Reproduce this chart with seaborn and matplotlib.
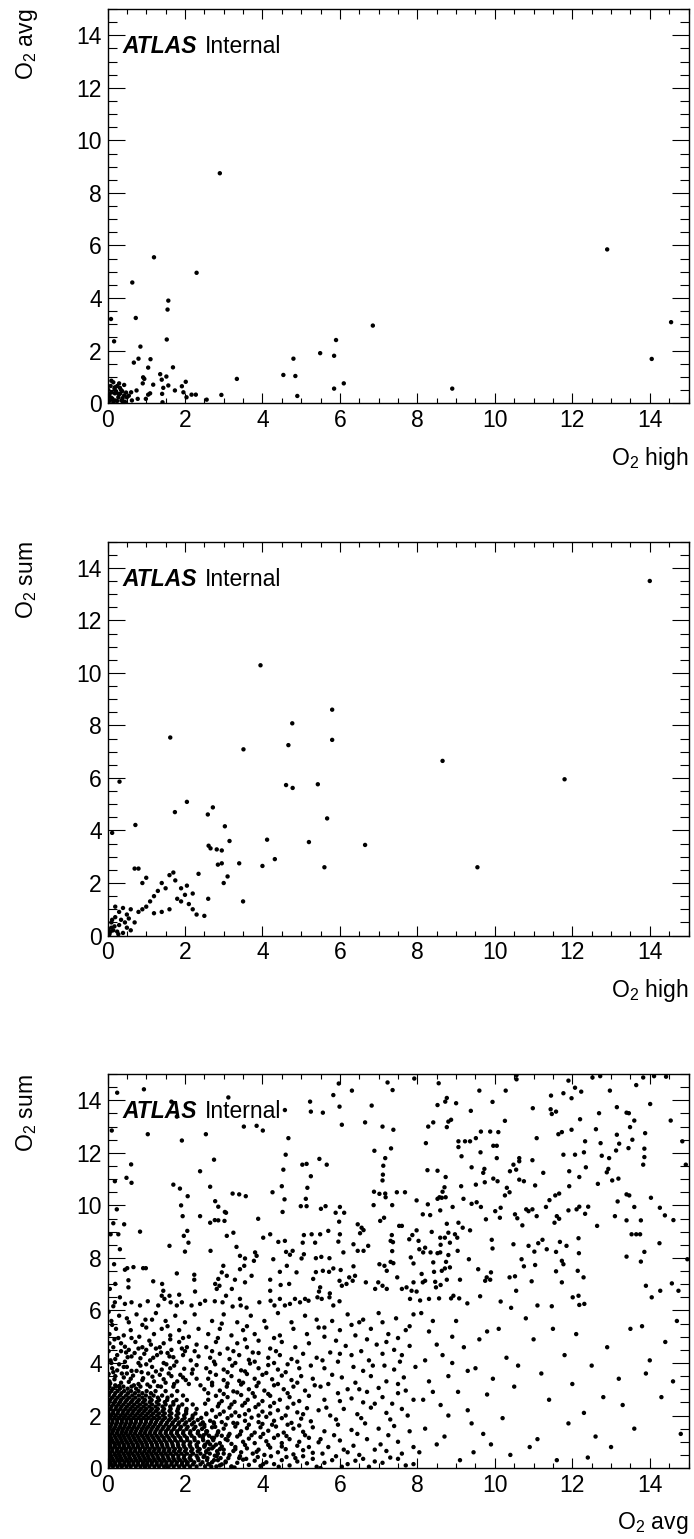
import matplotlib
matplotlib.use("Agg")
import matplotlib.pyplot as plt
import seaborn as sns
from matplotlib.ticker import MultipleLocator

# ---- panel 1: O2 high vs O2 avg ----
high1 = [2.30, 0.64, 1.57, 1.55, 0.09, 0.73, 1.53, 0.17, 0.85, 0.80, 1.11, 0.68, 1.69, 1.05, 1.36,
         0.92, 0.95, 1.52, 1.40, 0.91, 1.18, 1.57, 1.44, 1.92, 2.02, 1.74, 1.96, 1.10, 1.05, 1.41,
         0.99, 1.42, 0.75, 0.78, 0.61, 0.63, 2.04, 2.17, 2.28, 2.56, 2.94, 3.34, 4.54, 4.80, 4.85,
         4.90, 5.49, 0.15, 0.19, 0.32, 0.43, 0.11, 0.19, 0.32, 0.43, 0.13, 0.28, 0.39, 0.50, 0.06,
         0.15, 0.36, 2.90, 1.20, 5.90, 5.85, 6.85, 6.10, 5.85, 8.90, 12.90, 14.05, 14.55, 0.05, 0.22,
         0.25, 0.45, 0.02, 0.30, 0.08, 0.03, 0.10, 0.20, 0.28, 0.38, 0.05, 0.18, 0.40, 0.48, 0.25,
         0.10, 0.55, 0.35]
avg1 = [4.96, 4.59, 3.90, 3.56, 3.20, 3.24, 2.42, 2.35, 2.15, 1.69, 1.67, 1.54, 1.36, 1.35, 1.10,
        0.98, 0.92, 1.01, 0.89, 0.75, 0.70, 0.67, 0.58, 0.64, 0.81, 0.48, 0.41, 0.37, 0.32, 0.35,
        0.16, 0.03, 0.48, 0.16, 0.41, 0.10, 0.22, 0.32, 0.32, 0.13, 0.31, 0.92, 1.07, 1.69, 1.03,
        0.27, 1.90, 0.79, 0.60, 0.58, 0.69, 0.41, 0.37, 0.35, 0.29, 0.16, 0.22, 0.19, 0.22, 0.10,
        0.03, 0.10, 8.75, 5.55, 2.40, 1.80, 2.95, 0.75, 0.55, 0.55, 5.85, 1.68, 3.08, 0.25, 0.45,
        0.08, 0.05, 0.50, 0.75, 0.65, 0.05, 0.20, 0.10, 0.35, 0.45, 0.35, 0.55, 0.05, 0.40, 0.65,
        0.85, 0.28, 0.50]

# ---- panel 2: O2 high vs O2 sum ----
high2 = [3.95, 4.77, 1.62, 4.67, 3.51, 0.31, 4.61, 4.78, 5.43, 2.05, 1.74, 2.72, 2.59, 5.67, 0.72,
         3.03, 0.12, 3.15, 4.12, 5.20, 2.61, 2.66, 2.82, 2.95, 4.32, 5.80, 5.80, 14.0, 11.8, 8.65,
         6.65, 5.60, 9.55, 4.00, 3.50, 3.40, 3.00, 3.10, 2.85, 2.95,
         0.70, 0.80, 0.90, 1.00, 1.40, 1.60, 1.70, 1.75, 1.90, 2.00, 1.50, 1.30, 1.20, 1.10, 1.00,
         0.90, 0.80, 1.80, 2.10, 2.20, 2.30, 2.50, 2.35, 2.05, 1.60, 1.40, 1.20, 0.60, 0.50, 0.40,
         0.30, 0.20, 0.20, 0.10, 0.30, 0.50, 0.15, 0.25, 0.40, 0.60, 0.70, 0.05, 0.10, 0.35, 0.45,
         0.55, 1.90, 2.20, 2.60, 0.08, 0.18, 0.28, 0.02, 0.12]
sum2 = [10.29, 8.08, 7.54, 7.25, 7.09, 5.86, 5.73, 5.62, 5.76, 5.09, 4.70, 4.88, 4.61, 4.46, 4.21,
        4.16, 3.91, 3.60, 3.65, 3.56, 3.42, 3.32, 3.28, 3.24, 2.91, 8.60, 7.45, 13.5, 5.95, 6.65,
        3.45, 2.60, 2.60, 2.65, 1.30, 2.75, 2.00, 2.25, 2.70, 2.75,
        2.55, 2.55, 2.00, 2.20, 2.00, 2.30, 2.40, 2.10, 1.80, 1.55, 1.80, 1.70, 1.50, 1.30, 1.10,
        1.00, 0.90, 1.40, 1.20, 1.00, 0.80, 0.75, 2.35, 1.90, 1.00, 0.90, 0.85, 1.00, 0.80, 1.05,
        0.90, 1.10, 0.70, 0.50, 0.40, 0.30, 0.20, 0.15, 0.10, 0.20, 0.50, 0.05, 0.30, 0.60, 0.50,
        0.65, 1.30, 1.60, 1.40, 0.15, 0.35, 0.05, 0.25, 0.60]

# ---- panel 3: O2 avg vs O2 sum ----
# upper left part (sum above ~6)
avg3_a = [0.25, 0.94, 0.11, 1.04, 1.65, 1.79, 1.92, 2.54, 3.12, 3.52, 3.85, 4.01, 4.58, 4.67, 5.23,
          5.25, 5.56, 5.83, 5.99, 5.97, 6.05, 6.31, 6.82, 6.65, 7.23, 7.36, 7.10, 7.38, 7.32, 6.89,
          7.17, 7.12, 7.11, 7.10, 6.88, 7.02, 7.17, 7.18, 7.47, 7.35, 7.14, 7.04, 6.87, 7.53, 7.34,
          7.31, 7.37, 7.35, 7.31, 7.38, 7.02, 7.15, 7.48, 7.21, 6.99, 7.10, 7.21, 6.91, 6.67, 6.46,
          6.56, 6.61, 6.52, 6.35, 6.46, 6.61, 6.73, 6.35, 6.39, 6.24, 6.33, 6.17, 5.99, 6.05, 6.02,
          5.83, 5.72, 5.56, 5.38, 5.31, 5.49, 5.46, 5.53, 5.74, 5.99, 5.83, 5.73, 5.42, 5.19, 5.10,
          4.97, 4.84, 4.71, 4.45, 4.58, 4.20, 4.21, 4.31, 3.92, 3.59, 3.44, 3.23, 2.97, 2.77, 2.52,
          2.39, 2.17, 1.92, 1.79, 1.63, 1.60, 1.47, 1.40, 1.44, 1.41, 1.18, 1.04, 0.84, 0.62, 0.45,
          0.32, 0.19, 0.15, 0.54, 0.54, 0.20, 0.06, 0.17, 0.32, 0.28, 0.15, 0.43, 0.84, 0.24, 0.19,
          0.49, 0.62, 0.61, 0.08, 0.51, 0.67, 0.45, 0.92, 0.99, 1.60, 1.79, 1.97, 2.06, 2.09, 2.00,
          2.24, 2.24, 2.26, 1.85, 2.39, 2.65, 2.66, 2.77, 2.86, 3.02, 3.06, 2.86, 2.78, 2.65, 2.39,
          2.75, 3.08, 3.25, 3.33, 3.42, 3.55, 3.53, 3.42, 3.29, 3.21, 3.08, 2.99, 2.95, 2.86, 2.89,
          2.78, 2.82, 3.06, 3.42, 3.55, 3.72, 3.78, 3.85, 3.81, 4.02, 4.20, 4.41, 4.58, 4.61, 4.71,
          4.78, 4.63, 4.28, 4.20, 4.45, 4.47, 4.69, 4.88, 5.01, 5.07, 5.04, 5.07, 5.27, 5.36, 5.49,
          5.38, 5.52, 5.73, 5.70, 6.00, 5.96, 6.09, 6.11, 6.00, 5.89, 5.98, 5.63, 5.51, 5.14, 4.99,
          5.12, 5.16, 5.25, 5.47, 5.66, 5.14, 4.54, 4.50, 4.57, 4.52, 4.26, 5.03, 4.60, 3.89, 3.57,
          3.40, 3.23, 3.03, 1.90, 1.87, 1.70, 2.07, 1.94, 1.31]
sum3_a = [14.29, 14.42, 12.85, 12.71, 13.95, 13.38, 12.47, 12.71, 14.11, 13.00, 13.03, 12.85, 13.63, 12.56, 13.95,
          13.57, 13.53, 14.20, 13.76, 14.64, 13.07, 14.37, 13.80, 13.16, 14.68, 14.39, 13.00, 12.88, 12.17, 12.08,
          11.80, 11.51, 11.17, 10.95, 10.52, 10.44, 10.45, 10.31, 10.50, 10.01, 9.53, 9.41, 10.01, 9.22, 8.87,
          8.65, 8.60, 8.26, 7.85, 7.80, 7.76, 7.70, 7.26, 7.51, 7.07, 6.94, 6.82, 6.82, 7.07, 9.28,
          9.15, 9.06, 8.94, 8.52, 8.27, 8.27, 8.46, 7.68, 7.32, 7.26, 7.13, 7.01, 7.13, 6.94, 7.54,
          7.60, 7.47, 7.51, 7.46, 7.20, 6.88, 6.72, 6.44, 6.65, 6.35, 6.19, 6.50, 6.50, 6.37, 6.44,
          6.31, 6.44, 6.25, 6.44, 6.19, 6.75, 6.37, 6.19, 6.31, 6.11, 6.19, 6.15, 6.31, 6.35, 6.37,
          6.25, 6.19, 6.31, 6.19, 6.31, 6.56, 6.44, 6.56, 6.75, 7.01, 7.11, 6.35, 6.19, 6.31, 6.25,
          6.50, 6.31, 6.16, 6.88, 7.15, 7.01, 6.82, 7.76, 8.33, 8.90, 9.32, 9.28, 9.00, 9.85, 10.92,
          11.05, 10.86, 11.56, 8.90, 7.61, 7.65, 7.55, 7.61, 7.61, 8.46, 7.41, 8.84, 9.03, 8.58, 8.24,
          7.36, 7.17, 6.72, 6.60, 9.59, 9.34, 8.27, 9.44, 9.43, 9.41, 9.72, 9.95, 10.16, 10.71, 11.30,
          11.74, 8.84, 8.96, 8.42, 8.08, 7.98, 7.70, 7.57, 7.17, 6.82, 7.32, 7.70, 7.45, 7.20, 6.94,
          7.01, 6.82, 6.56, 6.44, 7.07, 7.32, 7.89, 8.08, 8.21, 8.77, 8.90, 8.61, 8.65, 8.23, 8.12,
          8.27, 7.70, 7.95, 7.17, 7.47, 6.97, 7.01, 7.45, 7.98, 8.14, 8.58, 8.87, 8.90, 8.58, 8.90,
          7.99, 8.04, 7.99, 9.03, 8.90, 8.62, 8.21, 9.72, 9.94, 9.72, 9.38, 9.97, 9.87, 9.97, 9.97,
          10.25, 10.67, 11.11, 11.77, 11.55, 11.58, 11.36, 10.73, 10.23, 9.75, 10.50, 11.55, 11.93, 9.49, 10.35,
          10.42, 10.45, 9.75, 10.00, 10.64, 10.79, 10.35, 9.59, 6.19]

# upper right part (avg above ~7.5, sum above ~6)
avg3_b = [7.92, 8.55, 9.60, 10.28, 10.56, 10.56, 11.90, 12.07, 12.23, 11.98, 11.45, 11.77, 12.52, 12.72, 12.97,
          13.65, 13.83, 14.11, 14.42, 14.01, 14.54, 14.84, 14.93, 14.97, 8.72, 8.76, 8.52, 9.00, 9.38, 9.94,
          10.26, 10.98, 11.44, 11.47, 11.58, 12.69, 13.15, 13.40, 13.46, 13.60, 13.88, 13.49, 12.20, 11.98, 11.73,
          11.64, 11.08, 8.28, 8.41, 8.76, 8.80, 8.87, 8.22, 9.06, 9.23, 9.36, 9.51, 9.64, 9.88, 10.09,
          9.96, 10.05, 9.06, 9.14, 9.63, 10.05, 10.48, 10.63, 10.63, 10.97, 11.25, 10.55, 10.39, 10.63, 10.75,
          11.04, 10.31, 10.26, 10.38, 9.96, 10.07, 9.73, 9.70, 9.74, 9.51, 9.40, 9.13, 8.73, 8.70, 8.52,
          8.65, 8.57, 8.52, 8.73, 8.91, 9.19, 9.40, 9.53, 9.64, 9.77, 10.01, 10.15, 10.13, 10.52, 10.58,
          10.71, 10.81, 10.87, 10.97, 11.08, 11.32, 11.41, 11.56, 11.66, 11.60, 11.66, 11.54, 11.90, 12.11, 12.18,
          12.41, 12.33, 11.92, 11.92, 12.18, 12.35, 12.07, 12.30, 12.33, 11.77, 12.66, 12.73, 12.76, 12.95, 12.89,
          12.93, 13.03, 13.19, 13.15, 13.21, 13.45, 13.55, 13.13, 12.61, 13.40, 13.47, 13.17, 13.60, 13.10, 13.40,
          13.77, 14.03, 14.26, 14.39, 14.61, 13.86, 13.86, 13.83, 12.64, 13.53, 13.65, 13.75, 14.25, 13.86, 13.40,
          13.77, 13.90, 14.27, 14.57, 14.74, 14.05, 12.01, 12.16, 12.18, 12.31, 11.47, 11.10, 10.95, 10.75, 10.69,
          10.87, 11.04, 11.02, 11.12, 11.23, 11.34, 11.58, 11.68, 11.85, 11.73, 11.77, 11.58, 11.73, 12.16, 12.17,
          12.14, 12.29, 10.48, 10.38, 10.52, 10.55, 10.15, 10.42, 9.92, 9.94, 9.90, 9.79, 9.88, 9.75, 9.57,
          9.62, 9.33, 9.29, 9.04, 9.03, 8.97, 8.84, 8.80, 8.71, 8.59, 8.60, 8.59, 8.52, 8.74, 8.80,
          8.84, 8.71, 8.63, 8.43, 8.76, 8.60, 8.48, 8.46, 9.10, 8.93, 9.08, 8.87, 8.56, 8.30, 8.07,
          7.81, 7.85, 7.72, 7.60, 7.98, 7.90, 8.20, 8.11, 8.14, 8.41, 8.34, 8.15, 8.20, 8.05, 7.90,
          7.83, 8.03, 7.79, 7.98, 7.87, 8.37, 8.76, 9.06, 9.17, 9.36, 8.59, 8.63, 8.14, 8.33, 7.98,
          8.27, 7.60, 7.68, 8.26]
sum3_b = [14.83, 14.65, 14.37, 14.37, 14.96, 14.80, 14.75, 14.48, 14.33, 14.08, 14.18, 14.27, 14.87, 14.92, 14.37,
          14.58, 14.87, 14.92, 14.90, 13.86, 13.23, 12.44, 11.55, 7.95, 13.95, 14.09, 13.82, 13.89, 13.60, 13.94,
          13.22, 13.70, 13.66, 13.48, 13.57, 13.51, 13.74, 13.53, 13.51, 13.23, 12.75, 12.98, 13.28, 12.88, 12.79,
          12.71, 12.56, 13.00, 13.16, 12.98, 13.19, 13.26, 12.37, 12.44, 12.44, 12.44, 12.56, 12.81, 12.81, 12.79,
          12.27, 12.27, 12.22, 11.87, 12.02, 11.80, 11.55, 11.80, 11.68, 11.72, 11.24, 11.36, 11.30, 10.98, 10.92,
          10.76, 10.67, 10.38, 10.50, 11.02, 10.92, 11.39, 11.24, 10.88, 10.79, 11.45, 10.73, 11.08, 10.69, 11.32,
          10.52, 10.31, 10.25, 10.31, 9.94, 10.25, 10.06, 10.12, 9.94, 9.47, 9.78, 9.91, 9.53, 9.66, 9.51,
          9.24, 9.85, 9.78, 9.85, 9.59, 9.94, 10.20, 10.38, 10.45, 9.59, 9.49, 9.34, 9.81, 9.85, 9.95,
          9.95, 9.68, 10.73, 11.30, 11.08, 11.45, 11.93, 12.02, 12.44, 11.93, 10.82, 12.37, 11.89, 11.80, 11.26,
          11.39, 10.95, 11.02, 12.69, 12.35, 12.18, 12.50, 12.09, 12.90, 10.42, 10.38, 10.15, 9.94, 9.59, 9.43,
          9.43, 10.29, 9.91, 9.62, 9.44, 12.16, 11.84, 11.55, 9.22, 8.90, 8.90, 8.90, 8.56, 8.23, 8.05,
          7.86, 6.94, 6.75, 7.03, 6.75, 6.50, 6.50, 6.56, 6.21, 6.25, 6.16, 6.19, 7.11, 7.68, 7.95,
          8.46, 7.73, 8.24, 8.56, 8.69, 8.33, 8.23, 8.61, 8.46, 7.89, 7.76, 7.49, 7.07, 8.75, 8.18,
          7.51, 7.26, 8.52, 7.26, 7.30, 6.75, 6.34, 6.10, 8.69, 8.36, 7.45, 7.26, 7.17, 7.13, 7.57,
          6.54, 7.95, 6.27, 8.27, 8.77, 8.90, 8.58, 8.96, 8.77, 8.77, 8.50, 8.21, 8.18, 7.85, 8.11,
          7.64, 7.60, 7.51, 7.47, 7.17, 6.97, 6.88, 7.09, 7.17, 6.56, 6.46, 6.46, 6.46, 6.44, 6.38,
          6.44, 6.75, 6.88, 6.82, 6.72, 7.07, 7.13, 7.39, 7.07, 7.83, 8.21, 8.21, 8.39, 8.33, 7.79,
          8.02, 8.65, 8.71, 9.05, 8.87, 8.99, 9.30, 9.34, 9.15, 9.05, 9.81, 10.29, 9.66, 9.63, 10.19,
          10.04, 9.22, 10.50, 11.34]

# dense core (sum below ~3), read row by row
core_sum = [0.06, 0.14, 0.22, 0.30, 0.38, 0.47, 0.55, 0.64, 0.72, 0.81, 0.89, 0.98, 1.06, 1.15,
            1.23, 1.32, 1.40, 1.49, 1.57, 1.66, 1.74, 1.83, 1.91, 2.00, 2.08, 2.17, 2.25, 2.34,
            2.42, 2.51, 2.59, 2.68, 2.76, 2.85, 2.93, 3.02, 3.10]
core_avg = [
    [0.03, 0.14, 0.26, 0.37, 0.49, 0.60, 0.73, 0.85, 0.96, 1.08, 1.21, 1.33, 1.46, 1.58, 1.71, 1.85, 1.98, 2.13, 2.30, 2.52, 2.81, 3.20],
    [0.09, 0.20, 0.32, 0.43, 0.55, 0.67, 0.79, 0.91, 1.02, 1.14, 1.27, 1.39, 1.52, 1.65, 1.78, 1.92, 2.06, 2.21, 2.40, 2.63, 2.95],
    [0.08, 0.19, 0.31, 0.44, 0.55, 0.67, 0.79, 0.92, 1.03, 1.15, 1.27, 1.40, 1.52, 1.66, 1.79, 1.93, 2.07, 2.24, 2.45, 2.70, 3.05],
    [0.04, 0.15, 0.27, 0.38, 0.50, 0.62, 0.74, 0.86, 0.98, 1.10, 1.22, 1.35, 1.47, 1.60, 1.73, 1.87, 2.01, 2.16, 2.35, 2.57, 2.85],
    [0.02, 0.12, 0.24, 0.35, 0.47, 0.58, 0.71, 0.83, 0.95, 1.06, 1.19, 1.31, 1.44, 1.57, 1.70, 1.83, 1.97, 2.12, 2.33, 2.58, 2.92, 3.40],
    [0.09, 0.21, 0.32, 0.44, 0.56, 0.68, 0.80, 0.92, 1.04, 1.16, 1.29, 1.42, 1.55, 1.69, 1.83, 1.98, 2.14, 2.30, 2.50, 2.77],
    [0.06, 0.18, 0.29, 0.41, 0.53, 0.64, 0.77, 0.89, 1.01, 1.13, 1.25, 1.38, 1.50, 1.63, 1.77, 1.91, 2.05, 2.21, 2.40, 2.64, 3.00],
    [0.01, 0.12, 0.24, 0.35, 0.47, 0.59, 0.71, 0.83, 0.95, 1.07, 1.19, 1.32, 1.45, 1.58, 1.71, 1.85, 2.00, 2.16, 2.33, 2.55, 2.83],
    [0.03, 0.13, 0.25, 0.37, 0.48, 0.60, 0.72, 0.84, 0.97, 1.09, 1.22, 1.34, 1.47, 1.60, 1.74, 1.88, 2.03, 2.19, 2.38, 2.61, 2.90, 3.30],
    [0.08, 0.19, 0.31, 0.43, 0.55, 0.67, 0.79, 0.91, 1.03, 1.16, 1.29, 1.42, 1.55, 1.69, 1.83, 1.98, 2.14, 2.31, 2.50, 2.74],
    [0.07, 0.19, 0.30, 0.42, 0.54, 0.66, 0.78, 0.90, 1.02, 1.15, 1.28, 1.41, 1.54, 1.68, 1.82, 1.96, 2.12, 2.30, 2.52, 2.80],
    [0.04, 0.15, 0.27, 0.38, 0.50, 0.62, 0.75, 0.87, 0.99, 1.12, 1.25, 1.38, 1.52, 1.66, 1.81, 1.97, 2.14, 2.34, 2.58],
    [0.02, 0.12, 0.24, 0.36, 0.47, 0.59, 0.71, 0.83, 0.96, 1.08, 1.21, 1.34, 1.47, 1.61, 1.75, 1.90, 2.06, 2.25, 2.47, 2.73, 3.10],
    [0.09, 0.21, 0.33, 0.44, 0.56, 0.68, 0.80, 0.93, 1.05, 1.18, 1.31, 1.45, 1.58, 1.73, 1.88, 2.05, 2.24, 2.46, 2.70],
    [0.06, 0.18, 0.30, 0.41, 0.53, 0.65, 0.77, 0.89, 1.02, 1.14, 1.27, 1.40, 1.54, 1.68, 1.83, 1.99, 2.17, 2.38, 2.62, 2.95],
    [0.01, 0.12, 0.24, 0.36, 0.47, 0.59, 0.71, 0.84, 0.96, 1.09, 1.22, 1.36, 1.50, 1.64, 1.79, 1.95, 2.13, 2.33, 2.55],
    [0.03, 0.14, 0.26, 0.38, 0.49, 0.61, 0.73, 0.86, 0.98, 1.11, 1.24, 1.37, 1.51, 1.65, 1.80, 1.96, 2.14, 2.34, 2.57, 2.86],
    [0.05, 0.17, 0.29, 0.40, 0.52, 0.64, 0.76, 0.89, 1.01, 1.14, 1.28, 1.42, 1.56, 1.71, 1.87, 2.04, 2.23, 2.44],
    [0.08, 0.20, 0.32, 0.44, 0.56, 0.68, 0.80, 0.93, 1.05, 1.18, 1.31, 1.45, 1.59, 1.74, 1.90, 2.07, 2.27, 2.50, 2.78],
    [0.10, 0.22, 0.34, 0.46, 0.58, 0.70, 0.83, 0.96, 1.09, 1.22, 1.36, 1.51, 1.66, 1.82, 1.99, 2.18, 2.40],
    [0.02, 0.13, 0.25, 0.37, 0.49, 0.61, 0.73, 0.86, 0.99, 1.12, 1.25, 1.39, 1.54, 1.69, 1.85, 2.03, 2.23, 2.46, 2.74],
    [0.02, 0.13, 0.25, 0.37, 0.49, 0.61, 0.74, 0.87, 1.00, 1.14, 1.28, 1.43, 1.59, 1.75, 1.93, 2.12, 2.33],
    [0.06, 0.18, 0.30, 0.42, 0.54, 0.67, 0.80, 0.93, 1.06, 1.20, 1.34, 1.49, 1.64, 1.81, 1.99, 2.19, 2.42],
    [0.09, 0.21, 0.34, 0.46, 0.59, 0.72, 0.85, 0.99, 1.13, 1.28, 1.43, 1.60, 1.78, 1.98, 2.20],
    [0.03, 0.14, 0.26, 0.39, 0.51, 0.64, 0.77, 0.90, 1.04, 1.18, 1.33, 1.48, 1.65, 1.83, 2.03, 2.27, 2.55],
    [0.02, 0.15, 0.28, 0.41, 0.54, 0.67, 0.81, 0.95, 1.10, 1.25, 1.42, 1.60, 1.80, 2.03],
    [0.08, 0.21, 0.33, 0.46, 0.59, 0.72, 0.86, 1.00, 1.15, 1.30, 1.46, 1.63, 1.82, 2.04, 2.30],
    [0.10, 0.23, 0.36, 0.50, 0.64, 0.78, 0.93, 1.08, 1.24, 1.42, 1.62, 1.84],
    [0.02, 0.15, 0.28, 0.41, 0.55, 0.69, 0.84, 0.99, 1.15, 1.32, 1.50, 1.70, 1.93, 2.20],
    [0.04, 0.18, 0.32, 0.46, 0.61, 0.76, 0.92, 1.09, 1.27, 1.48, 1.70],
    [0.07, 0.21, 0.35, 0.50, 0.65, 0.81, 0.97, 1.14, 1.33, 1.54, 1.78, 2.05],
    [0.12, 0.26, 0.41, 0.56, 0.72, 0.90, 1.09, 1.30, 1.55],
    [0.03, 0.17, 0.32, 0.48, 0.64, 0.81, 0.99, 1.19, 1.41, 1.66, 1.95],
    [0.05, 0.20, 0.36, 0.53, 0.71, 0.90, 1.12],
    [0.10, 0.26, 0.43, 0.61, 0.80, 1.01, 1.24, 1.50, 1.80],
    [0.14, 0.32, 0.52, 0.74],
    [0.05, 0.22, 0.41, 0.62, 0.85, 1.10, 1.38, 1.70],
]

# lower part outside the core (sum below ~6)
avg3_c = [0.05, 0.20, 0.35, 0.50, 0.12, 0.30, 0.60, 0.75, 0.90, 1.05, 1.20, 1.35, 1.50, 1.65, 1.80, 1.95, 2.10, 2.30,
          0.08, 0.25, 0.45, 0.62, 0.80, 0.95, 1.10, 1.28, 1.45, 1.60, 1.78, 1.95, 2.15, 2.35,
          0.15, 0.35, 0.55, 0.72, 0.90, 1.08, 1.25, 1.45, 1.65, 1.85, 2.05, 2.30,
          0.05, 0.22, 0.42, 0.60, 0.82, 1.00, 1.20, 1.40, 1.62, 1.85, 2.10, 2.35,
          0.10, 0.30, 0.55, 0.75, 0.98, 1.25, 1.50, 1.75, 2.00, 2.25,
          0.02, 0.15, 0.42, 0.68, 0.85, 1.15, 1.40, 1.72, 2.20, 0.03, 0.28, 0.48, 1.00, 1.38, 1.92,
          0.12, 0.50, 0.90, 1.15, 1.55, 0.03, 0.20,
          2.60, 2.75, 2.90, 3.05, 3.20, 3.35, 3.50, 3.65, 3.80, 3.95, 4.10, 4.30, 4.50, 4.70, 4.90, 5.15, 5.40,
          2.55, 2.70, 2.85, 3.00, 3.15, 3.30, 3.45, 3.60, 3.75, 3.90, 4.05, 4.20, 4.40, 4.60, 4.80, 5.05, 5.30,
          2.60, 2.75, 2.90, 3.05, 3.20, 3.35, 3.50, 3.65, 3.80, 3.95, 4.10, 4.30, 4.50, 4.70, 4.95, 5.20, 5.45,
          2.55, 2.70, 2.85, 3.00, 3.15, 3.30, 3.45, 3.60, 3.80, 3.95, 4.15, 4.35, 4.55, 4.80, 5.05, 5.30,
          2.65, 2.80, 2.95, 3.10, 3.25, 3.40, 3.55, 3.72, 3.90, 4.10, 4.30, 4.50, 4.75, 5.00, 5.25,
          2.70, 2.85, 3.00, 3.15, 3.30, 3.48, 3.65, 3.82, 4.00, 4.20, 4.40, 4.65, 4.90, 5.15, 5.45,
          2.60, 2.80, 2.95, 3.10, 3.28, 3.45, 3.62, 3.80, 4.00, 4.20, 4.45, 4.70, 4.95, 5.20,
          2.50, 2.70, 2.90, 3.08, 3.25, 3.45, 3.65, 3.85, 4.05, 4.30, 4.55, 4.80, 5.10, 5.35,
          2.60, 2.80, 3.00, 3.20, 3.40, 3.60, 3.80, 4.00, 4.25, 4.50, 4.75, 5.00, 5.30,
          2.55, 2.78, 3.00, 3.22, 3.45, 3.68, 3.90, 4.15, 4.40, 4.65, 4.95, 5.25,
          2.65, 2.90, 3.15, 3.40, 3.65, 3.90, 4.15, 4.45, 4.75, 5.05, 5.40,
          2.55, 2.80, 3.10, 3.35, 3.60, 3.90, 4.20, 4.50, 4.85, 5.20,
          2.60, 2.90, 3.20, 3.50, 3.80, 4.10, 4.45, 4.80, 5.15, 5.45,
          2.70, 3.00, 3.35, 3.70, 4.05, 4.40, 4.75, 5.10, 5.40,
          5.60, 5.90, 6.20, 6.50, 6.90, 7.30, 7.70, 5.70, 6.00, 6.35, 6.70, 7.05, 7.50, 7.90,
          5.60, 5.95, 6.30, 6.65, 7.00, 7.40, 7.80, 5.75, 6.10, 6.45, 6.80, 7.20, 7.60,
          5.60, 5.95, 6.30, 6.70, 7.10, 7.50, 7.90, 5.70, 6.05, 6.40, 6.80, 7.20, 7.65,
          5.60, 5.95, 6.35, 6.75, 7.15, 7.55, 7.95, 5.75, 6.15, 6.55, 6.95, 7.40, 7.80,
          5.60, 6.00, 6.40, 6.80, 7.25, 7.70, 5.80, 6.20, 6.60, 7.00, 7.45, 7.90,
          5.55, 6.10, 6.60, 7.20, 5.85, 6.45, 7.25, 5.65, 6.60, 7.35, 6.20, 7.00, 5.80, 6.60, 7.40,
          6.30, 7.10, 5.90, 6.70, 7.50, 6.30, 7.10,
          8.1, 8.3, 8.5, 8.2, 8.8, 8.4, 8.6, 9.0, 9.2, 9.5, 9.3, 9.7, 9.9, 10.1, 10.3, 10.5, 10.2,
          10.4, 10.8, 11.0, 11.2, 11.4, 11.1, 11.6, 11.8, 12.0, 12.3, 12.1, 12.6, 12.9, 13.2, 13.5,
          13.3, 13.8, 13.6, 14.0, 14.3, 14.6, 14.8, 12.4,
          8.05, 8.7, 9.1, 9.4, 8.9, 9.8, 10.6, 10.9, 11.5, 11.9, 12.5, 12.8, 13.0, 13.9, 14.4, 14.7, 8.3, 9.6]
sum3_c = [3.30, 3.50, 3.25, 3.60, 3.80, 3.95, 3.40, 3.70, 3.35, 3.60, 3.30, 3.55, 3.25, 3.50, 3.30, 3.45, 3.20, 3.40,
          4.10, 4.30, 4.05, 4.25, 4.00, 4.35, 4.10, 4.30, 4.00, 4.25, 4.05, 4.30, 4.10, 4.25,
          4.60, 4.75, 4.50, 4.80, 4.60, 4.85, 4.55, 4.75, 4.50, 4.80, 4.60, 4.70,
          5.10, 5.30, 5.05, 5.25, 5.00, 5.35, 5.10, 5.30, 5.05, 5.25, 5.00, 5.30,
          5.60, 5.80, 5.55, 5.85, 5.65, 5.90, 5.60, 5.80, 5.55, 5.85,
          3.05, 3.65, 3.85, 3.15, 3.90, 3.85, 3.75, 3.90, 3.75, 4.45, 4.95, 4.40, 4.50, 4.40, 4.55,
          5.45, 5.70, 5.45, 5.65, 5.40, 5.95, 3.15,
          0.15, 0.30, 0.10, 0.25, 0.05, 0.20, 0.32, 0.12, 0.28, 0.08, 0.22, 0.15, 0.30, 0.10, 0.25, 0.18, 0.05,
          0.60, 0.75, 0.55, 0.70, 0.50, 0.80, 0.60, 0.75, 0.55, 0.70, 0.50, 0.78, 0.60, 0.72, 0.52, 0.68, 0.58,
          1.00, 1.15, 0.95, 1.10, 0.92, 1.20, 1.00, 1.12, 0.95, 1.18, 1.02, 1.15, 0.95, 1.10, 1.00, 1.15, 0.98,
          1.40, 1.55, 1.35, 1.50, 1.30, 1.58, 1.40, 1.52, 1.35, 1.55, 1.42, 1.58, 1.35, 1.50, 1.38, 1.55,
          1.80, 1.95, 1.75, 1.90, 1.72, 1.98, 1.80, 1.92, 1.75, 1.95, 1.80, 1.90, 1.72, 1.88, 1.78,
          2.20, 2.35, 2.15, 2.30, 2.12, 2.38, 2.20, 2.32, 2.15, 2.35, 2.20, 2.30, 2.12, 2.28, 2.20,
          2.60, 2.75, 2.55, 2.70, 2.52, 2.78, 2.60, 2.72, 2.55, 2.75, 2.60, 2.70, 2.55, 2.75,
          3.00, 3.15, 2.95, 3.10, 2.92, 3.18, 3.00, 3.12, 2.95, 3.15, 3.00, 3.10, 2.95, 3.15,
          3.40, 3.55, 3.35, 3.50, 3.32, 3.58, 3.40, 3.55, 3.38, 3.52, 3.35, 3.50, 3.40,
          3.80, 3.95, 3.75, 3.90, 3.72, 3.98, 3.80, 3.92, 3.75, 3.95, 3.80, 3.90,
          4.20, 4.35, 4.15, 4.30, 4.12, 4.38, 4.20, 4.30, 4.15, 4.35, 4.20,
          4.60, 4.80, 4.55, 4.75, 4.60, 4.85, 4.55, 4.80, 4.60, 4.75,
          5.10, 5.30, 5.05, 5.25, 5.10, 5.35, 5.05, 5.30, 5.10, 5.35,
          5.60, 5.85, 5.55, 5.80, 5.60, 5.90, 5.55, 5.80, 5.65,
          0.20, 0.45, 0.15, 0.50, 0.25, 0.40, 0.10, 0.80, 1.05, 0.85, 1.10, 0.90, 1.00, 0.80,
          1.40, 1.65, 1.45, 1.70, 1.50, 1.60, 1.40, 2.00, 2.25, 2.05, 2.30, 2.10, 2.25,
          2.60, 2.85, 2.65, 2.90, 2.70, 2.85, 2.60, 3.20, 3.45, 3.25, 3.50, 3.30, 3.45,
          3.80, 4.05, 3.85, 4.10, 3.90, 4.05, 3.85, 4.40, 4.65, 4.45, 4.70, 4.50, 4.65,
          5.00, 5.25, 5.05, 5.30, 5.10, 5.25, 5.60, 5.85, 5.65, 5.90, 5.70, 5.85,
          0.55, 0.70, 0.35, 0.65, 1.25, 1.30, 1.25, 2.30, 2.50, 2.45, 3.00, 3.05, 3.55, 3.70, 3.75,
          4.30, 4.35, 4.85, 4.90, 4.95, 5.45, 5.55,
          5.9, 5.2, 4.7, 4.1, 3.5, 2.9, 2.4, 5.6, 4.6, 3.8, 2.2, 1.3, 0.9, 5.3, 4.2, 3.1, 1.9,
          0.5, 5.7, 4.9, 3.6, 2.6, 1.1, 0.3, 4.3, 3.2, 2.1, 5.1, 1.2, 4.6, 3.4, 5.3,
          2.4, 5.4, 1.5, 4.1, 2.7, 3.3, 1.3, 0.4,
          0.6, 1.2, 0.3, 1.7, 4.0, 2.8, 3.9, 0.8, 5.3, 1.7, 3.9, 2.7, 0.8, 3.6, 4.8, 5.6, 3.3, 4.9]

# extra points in the medium-density band, off the rows above
avg3_d = [2.48, 2.68, 2.82, 3.12, 3.28, 3.42, 3.58, 3.88, 4.02, 4.22, 4.42, 4.62, 4.85, 5.05, 5.30,
          2.50, 2.65, 2.95, 3.25, 3.55, 3.85, 4.15, 4.50, 4.90, 5.20,
          2.48, 2.82, 3.12, 3.42, 3.72, 4.02, 4.40, 4.62, 5.10,
          2.50, 2.75, 3.05, 3.35, 3.65, 4.00, 4.25, 4.65, 4.95,
          2.55, 2.90, 3.20, 3.55, 3.90, 4.20, 4.60, 5.05,
          2.52, 2.88, 3.20, 3.55, 3.90, 4.30, 4.80,
          2.60, 3.00, 3.35, 3.75, 4.15, 4.65,
          2.70, 3.10, 3.50, 3.90, 4.40, 4.90,
          2.65, 3.10, 3.55, 4.10, 4.60,
          2.75, 3.30, 3.80, 4.30, 4.90,
          2.70, 3.25, 3.75, 4.35,
          2.85, 3.55, 4.30, 2.95, 3.60,
          5.50, 5.80, 6.05, 6.40, 6.75, 7.10, 7.50, 7.90, 5.50, 6.20, 6.90, 7.60, 5.90, 6.55, 7.30,
          7.75, 6.00, 6.90, 7.70, 5.50, 6.50, 7.50, 5.55, 6.00, 6.85, 7.60, 5.60, 6.50, 7.20, 7.80,
          8.20, 8.50, 8.80, 9.05, 9.30, 8.40, 8.65, 9.45, 9.80, 9.95, 8.15, 8.90]
sum3_d = [0.42, 0.05, 0.45, 0.38, 0.02, 0.45, 0.35, 0.42, 0.15, 0.45, 0.05, 0.42, 0.38, 0.45, 0.35,
          0.85, 0.90, 0.82, 0.65, 0.88, 0.62, 0.88, 0.82, 0.85, 0.80,
          1.25, 1.25, 1.22, 1.28, 1.25, 1.30, 1.25, 1.22, 1.25,
          1.65, 1.70, 1.65, 1.70, 1.65, 1.68, 1.65, 1.65, 1.62,
          2.05, 2.05, 2.00, 2.05, 2.00, 2.08, 2.00, 2.05,
          2.45, 2.45, 2.42, 2.48, 2.42, 2.48, 2.45,
          2.85, 2.82, 2.88, 2.85, 2.82, 2.85,
          3.25, 3.22, 3.25, 3.25, 3.20, 3.25,
          3.65, 3.65, 3.68, 3.62, 3.65,
          4.05, 4.00, 4.05, 4.00, 4.05,
          4.45, 4.45, 4.40, 4.45,
          4.95, 4.90, 4.95, 5.50, 5.40,
          0.00, 0.30, 0.05, 0.28, 0.05, 0.20, 0.35, 0.15, 1.10, 0.60, 0.70, 0.55, 1.85, 1.90, 1.85,
          2.00, 2.55, 2.45, 2.95, 3.10, 3.00, 3.20, 4.10, 4.35, 3.90, 4.30, 5.35, 5.55, 4.80, 5.40,
          1.50, 0.90, 2.00, 2.90, 3.70, 5.60, 4.30, 0.60, 5.20, 3.40, 2.60, 5.00]

# fringe above the core, low avg
avg3_e = [0.07, 0.18, 0.30, 0.42, 0.55, 0.66, 0.80, 0.92, 1.03, 1.16, 1.30, 1.45, 1.58, 1.72, 1.88, 2.02, 2.18, 2.40,
          0.03, 0.25, 0.37, 0.50, 0.62, 0.88, 1.00, 1.25, 1.52, 1.62, 1.98, 2.30,
          0.10, 0.20, 0.35, 0.52, 0.70, 0.85, 1.18, 1.35, 1.55, 1.70, 2.00, 2.25,
          0.05, 0.18, 0.45, 0.62, 0.80, 1.12, 1.62, 1.95]
sum3_e = [3.22, 3.38, 3.12, 3.45, 3.28, 3.52, 3.20, 3.42, 3.18, 3.48, 3.12, 3.38, 3.60, 3.20, 3.55, 3.35, 3.60, 3.15,
          3.58, 3.72, 3.60, 3.85, 3.70, 3.65, 3.95, 3.68, 3.95, 3.80, 3.78, 3.92,
          4.00, 4.15, 4.45, 4.22, 4.38, 4.18, 4.20, 4.60, 4.38, 4.22, 4.45, 4.45,
          4.75, 4.90, 4.62, 4.95, 4.55, 4.70, 4.90, 4.95]

core_x = [v for row in core_avg for v in row]
core_y = [s for s, row in zip(core_sum, core_avg) for v in row]

avg3 = avg3_a + avg3_b + core_x + avg3_c + avg3_d + avg3_e
sum3 = sum3_a + sum3_b + core_y + sum3_c + sum3_d + sum3_e

sns.set_style("ticks")
plt.rcParams["font.family"] = ["Liberation Sans", "DejaVu Sans"]
plt.rcParams["mathtext.fontset"] = "custom"
plt.rcParams["mathtext.rm"] = "Liberation Sans"
plt.rcParams["mathtext.it"] = "Liberation Sans:italic"
plt.rcParams["mathtext.bf"] = "Liberation Sans:bold"
for key in ["text.color", "axes.labelcolor", "xtick.color", "ytick.color", "axes.edgecolor"]:
    plt.rcParams[key] = "black"

fig = plt.figure(figsize=(6.94, 15.39), dpi=100)

panels = [(high1, avg1, "O$_2$ high", "O$_2$ avg", 0.7381),
          (high2, sum2, "O$_2$ high", "O$_2$ sum", 0.3921),
          (avg3, sum3, "O$_2$ avg", "O$_2$ sum", 0.0461)]

fs = 16.5
for xs, ys, xlab, ylab, bottom in panels:
    ax = fig.add_axes([0.1549, bottom, 0.8372, 0.2560])
    sns.scatterplot(x=xs, y=ys, ax=ax, color="black", s=10, linewidth=0, edgecolor="none")
    ax.set_xlim(0, 15)
    ax.set_ylim(0, 15)
    ax.xaxis.set_major_locator(MultipleLocator(2))
    ax.yaxis.set_major_locator(MultipleLocator(2))
    ax.xaxis.set_minor_locator(MultipleLocator(0.5))
    ax.yaxis.set_minor_locator(MultipleLocator(0.5))
    ax.tick_params(which="both", direction="in", top=True, right=True, width=0.8,
                   labelsize=fs, colors="black")
    ax.tick_params(axis="x", which="major", length=7.5, pad=4)
    ax.tick_params(axis="x", which="minor", length=3.8)
    ax.tick_params(axis="y", which="major", length=12, pad=4)
    ax.tick_params(axis="y", which="minor", length=6.5)
    for sp in ax.spines.values():
        sp.set_linewidth(1.0)
        sp.set_color("black")
    ax.set_xlabel("")
    ax.set_ylabel("")
    ax.text(1.0, -0.14, xlab, transform=ax.transAxes, ha="right", va="center", fontsize=fs)
    ax.text(-0.139, 1.0, ylab, transform=ax.transAxes, rotation=90, ha="center", va="top",
            fontsize=fs)
    ax.text(0.026, 0.905, "ATLAS", transform=ax.transAxes, fontsize=fs, fontweight="bold",
            fontstyle="italic", va="center", ha="left")
    ax.text(0.168, 0.905, "Internal", transform=ax.transAxes, fontsize=fs, va="center",
            ha="left")

fig.savefig("out.png", dpi=100)
